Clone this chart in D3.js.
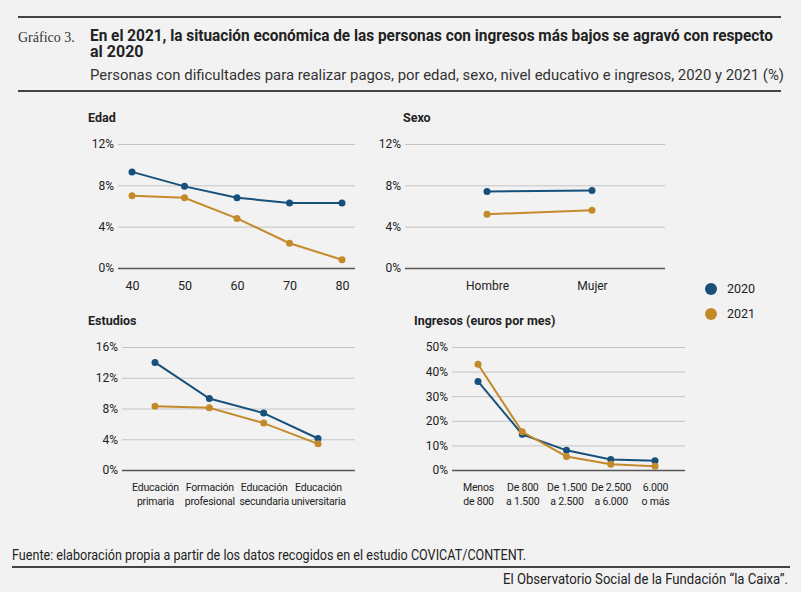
<!DOCTYPE html>
<html lang="es">
<head>
<meta charset="UTF-8">
<title>Gráfico 3</title>
<style>
  body { margin: 0; background: #f2f2f2; }
  svg { display: block; }
  .tick text { font-family: Roboto, "Liberation Sans", sans-serif; font-size: 12px; fill: #222; }
  .narrow { font-family: Roboto, sans-serif; }
</style>
</head>
<body>
<div id="chart"></div>
<script src="https://d3js.org/d3.v7.min.js"></script>
<script>
// --- data ---
const edadCats = ["40", "50", "60", "70", "80"];
const edad2020 = [9.3, 7.9, 6.8, 6.3, 6.3];
const edad2021 = [7.0, 6.8, 4.8, 2.4, 0.8];

const sexoCats = ["Hombre", "Mujer"];
const sexo2020 = [7.4, 7.5];
const sexo2021 = [5.2, 5.6];

const estudiosCats = ["Educación\nprimaria", "Formación\nprofesional", "Educación\nsecundaria", "Educación\nuniversitaria"];
const estudios2020 = [14.0, 9.3, 7.4, 4.1];
const estudios2021 = [8.3, 8.1, 6.1, 3.4];

const ingresosCats = ["Menos\nde 800", "De 800\na 1.500", "De 1.500\na 2.500", "De 2.500\na 6.000", "6.000\no más"];
const ingresos2020 = [36, 14.5, 8, 4.3, 3.8];
const ingresos2021 = [43, 15.5, 5.5, 2.3, 1.5];

const years = ["2020", "2021"];
const colors = ["#17507a", "#c48a2a"];

const W = 801, H = 592;
const svg = d3.select("#chart").append("svg").attr("width", W).attr("height", H);

// --- header ---
svg.append("rect").attr("x", 18).attr("y", 16).attr("width", 763).attr("height", 2).attr("fill", "#444");
svg.append("text").attr("x", 18).attr("y", 42)
  .style("font-family", "'Liberation Serif', serif").style("font-size", "14px").attr("fill", "#333")
  .text("Gráfico 3.");
const title = svg.append("text").attr("class", "narrow").attr("x", 90).attr("y", 41)
  .style("font-size", "16px").style("font-weight", "bold").attr("fill", "#222");
title.append("tspan").attr("x", 90).attr("textLength", 683).attr("lengthAdjust", "spacingAndGlyphs")
  .text("En el 2021, la situación económica de las personas con ingresos más bajos se agravó con respecto");
title.append("tspan").attr("x", 90).attr("dy", 16).text("al 2020");
svg.append("text").attr("class", "narrow").attr("x", 90).attr("y", 80)
  .style("font-size", "15.5px").attr("fill", "#333")
  .attr("textLength", 694).attr("lengthAdjust", "spacingAndGlyphs")
  .text("Personas con dificultades para realizar pagos, por edad, sexo, nivel educativo e ingresos, 2020 y 2021 (%)");
svg.append("rect").attr("x", 18).attr("y", 90).attr("width", 763).attr("height", 2).attr("fill", "#444");

// --- panels ---
function panel(cfg) {
  const g = svg.append("g");
  const y = d3.scaleLinear().domain([0, cfg.max]).range([cfg.y0, cfg.y1]);
  const x = d3.scalePoint().domain(cfg.cats).range(cfg.pts);

  g.append("text").attr("x", cfg.titleX).attr("y", cfg.y1 - 22)
    .style("font-family", "Roboto, sans-serif").style("font-size", "12.5px").style("font-weight", "bold")
    .attr("fill", "#222").text(cfg.title);

  const ticks = d3.range(0, cfg.max + 0.001, cfg.step);
  const ya = g.append("g").attr("transform", `translate(${cfg.ax0},0)`)
    .call(d3.axisLeft(y).tickValues(ticks).tickSize(-(cfg.ax1 - cfg.ax0)).tickFormat(d => d + "%"));
  ya.select(".domain").remove();
  ya.selectAll(".tick line").attr("stroke", d => d === 0 ? "#555" : "#c4c4c4").attr("stroke-width", d => d === 0 ? 1.5 : 1);
  ya.selectAll(".tick text").attr("x", -4).attr("text-anchor", "end");

  const xa = g.append("g").attr("transform", `translate(0,${cfg.y0})`)
    .call(d3.axisBottom(x).tickSize(0).tickFormat(""));
  xa.select(".domain").remove();
  xa.selectAll(".tick").each(function(d) {
    const t = d3.select(this).append("text").attr("text-anchor", "middle").attr("fill", "#222")
      .style("font-family", "Roboto, sans-serif").style("font-size", cfg.labelSize || "12px")
      .style("letter-spacing", cfg.spacing || "0px");
    d.split("\n").forEach((line, i) => {
      t.append("tspan").attr("x", 0).attr("y", cfg.labelDy + i * 14).text(line);
    });
  });

  cfg.series.forEach((vals, si) => {
    const pts = vals.map((v, i) => [x(cfg.cats[i]), y(v)]);
    g.append("path").attr("d", d3.line()(pts)).attr("fill", "none")
      .attr("stroke", colors[si]).attr("stroke-width", 2);
    g.selectAll(null).data(pts).join("circle")
      .attr("cx", d => d[0]).attr("cy", d => d[1]).attr("r", 3.5).attr("fill", colors[si]);
  });
}

panel({ title: "Edad", titleX: 88, cats: edadCats, series: [edad2020, edad2021],
  max: 12, step: 4, y0: 268, y1: 144, ax0: 118, ax1: 355, pts: [132, 342], labelDy: 22,
  labelSize: "12.5px" });
panel({ title: "Sexo", titleX: 403, cats: sexoCats, series: [sexo2020, sexo2021],
  max: 12, step: 4, y0: 268, y1: 144, ax0: 405, ax1: 665, pts: [487, 592], labelDy: 22 });
panel({ title: "Estudios", titleX: 88, cats: estudiosCats, series: [estudios2020, estudios2021],
  max: 16, step: 4, y0: 470, y1: 347, ax0: 122, ax1: 355, pts: [155, 318], labelDy: 21,
  labelSize: "10.5px", spacing: "-0.2px" });
panel({ title: "Ingresos (euros por mes)", titleX: 414, cats: ingresosCats, series: [ingresos2020, ingresos2021],
  max: 50, step: 10, y0: 470, y1: 347, ax0: 452, ax1: 685, pts: [478, 655], labelDy: 21,
  labelSize: "10.5px", spacing: "-0.2px" });

// --- legend ---
years.forEach((yr, i) => {
  svg.append("circle").attr("cx", 711).attr("cy", 289 + i * 25).attr("r", 6).attr("fill", colors[i]);
  svg.append("text").attr("x", 727).attr("y", 293 + i * 25)
    .style("font-family", "Roboto, sans-serif").style("font-size", "12.5px").attr("fill", "#222").text(yr);
});

// --- footer ---
svg.append("text").attr("class", "narrow").attr("x", 12).attr("y", 560)
  .style("font-size", "14px").attr("fill", "#222")
  .attr("textLength", 514).attr("lengthAdjust", "spacingAndGlyphs")
  .text("Fuente: elaboración propia a partir de los datos recogidos en el estudio COVICAT/CONTENT.");
svg.append("rect").attr("x", 12).attr("y", 566).attr("width", 778).attr("height", 2).attr("fill", "#444");
svg.append("text").attr("class", "narrow").attr("x", 788).attr("y", 584).attr("text-anchor", "end")
  .style("font-size", "14px").attr("fill", "#222")
  .attr("textLength", 285).attr("lengthAdjust", "spacingAndGlyphs")
  .text("El Observatorio Social de la Fundación “la Caixa”.");
</script>
</body>
</html>
